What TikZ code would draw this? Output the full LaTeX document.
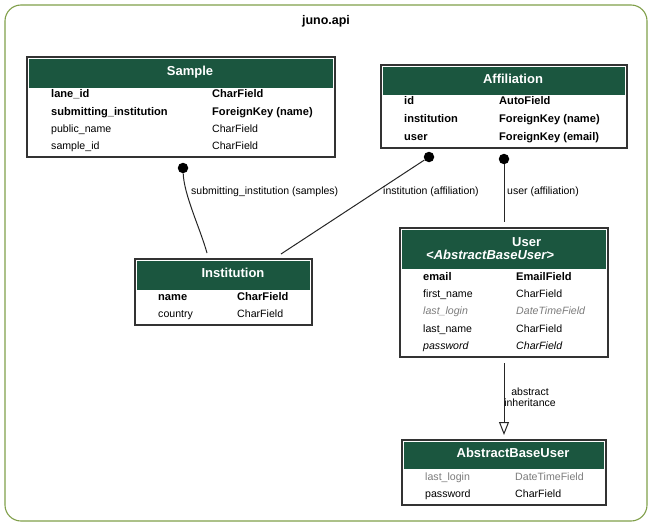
\documentclass[tikz,border=0pt]{standalone}
\usepackage{fontspec}
\setmainfont{Liberation Sans}
\usetikzlibrary{arrows.meta}
\definecolor{djgreen}{HTML}{1B563F}
\definecolor{clustergreen}{HTML}{809F4A}
\definecolor{inheritgray}{HTML}{7B7B7B}
\begin{document}
\begin{tikzpicture}
[x=1pt, y=-1pt,
  clusterdecorate/.style={draw=clustergreen, line width=1.1pt, rounded corners=16pt, inner sep=0pt},
  tabledecorate/.style={draw=black!80, line width=1.3pt, inner sep=0pt},
  headdecorate/.style={fill=djgreen, inner sep=0pt},
  titledecorate/.style={text=white, font=\fontsize{13}{15}\selectfont\bfseries, inner sep=0pt, anchor=base},
  fielddecorate/.style={inner sep=0pt, anchor=base west},
  keyfield/.style={font=\fontsize{11.1}{12}\selectfont\bfseries},
  plainfield/.style={font=\fontsize{10.6}{12}\selectfont},
  inheritfield/.style={font=\fontsize{10.6}{12}\selectfont\itshape, text=inheritgray},
  inheritplain/.style={font=\fontsize{10.6}{12}\selectfont, text=inheritgray},
  abstractfield/.style={font=\fontsize{10.6}{12}\selectfont\itshape},
  dotdecorate/.style={shape=circle, fill=black, inner sep=0pt, minimum size=10.5pt},
  linedecorate/.style={-, draw=black!85, line width=1pt},
  labeldecorate/.style={font=\fontsize{10.5}{12}\selectfont, inner sep=0pt, anchor=base west}]
\useasboundingbox (0,0) rectangle (653,527);
%% cluster
\node (cluster) at (326,263) [clusterdecorate, minimum width=642pt, minimum height=516pt] {};
\node (cluster-title) at (326,25) [anchor=base, inner sep=0pt, font=\fontsize{12.5}{14}\selectfont\bfseries] {juno.api};
%% tables and their headers
\foreach \nodename/\xa/\ya/\xb/\yb/\yh in {sample/27/57/335/157/88,
  affiliation/381/65/627/148/95, institution/135/259/312/325/290,
  user/400/228/608/357/269, abstractbaseuser/402/440/606/505/469}
{
  \node (\nodename) at ({(\xa+\xb)/2},{(\ya+\yb)/2}) [tabledecorate,
    minimum width={(\xb-\xa)*1pt}, minimum height={(\yb-\ya)*1pt}] {};
  \node (\nodename-head) at ({(\xa+\xb)/2},{(\ya+2+\yh)/2}) [headdecorate,
    minimum width={(\xb-\xa-4)*1pt}, minimum height={(\yh-\ya-2)*1pt}] {};
}
\foreach \nodename/\x/\y/\titletext in {sample/190/75/Sample,
  affiliation/513/83/Affiliation, institution/233/277/Institution,
  abstractbaseuser/513/457/AbstractBaseUser}
{
  \node (\nodename-title) at (\x,\y) [titledecorate] {\titletext};
}
\node (user-title) at (512,246) [titledecorate, anchor=base west] {User};
\node (user-parent) at (426,259) [titledecorate, anchor=base west,
  font=\fontsize{13}{15}\selectfont\bfseries\itshape] {<AbstractBaseUser>};
%% fields
\foreach \nodename/\x/\y/\fieldtext/\fieldstyle in {
  sample-n1/51/97/lane\_id/keyfield, sample-t1/212/97/CharField/keyfield,
  sample-n2/51/115/submitting\_institution/keyfield, sample-t2/212/115/ForeignKey (name)/keyfield,
  sample-n3/51/132/public\_name/plainfield, sample-t3/212/132/CharField/plainfield,
  sample-n4/51/149/sample\_id/plainfield, sample-t4/212/149/CharField/plainfield,
  affiliation-n1/404/104/id/keyfield, affiliation-t1/499/104/AutoField/keyfield,
  affiliation-n2/404/122/institution/keyfield, affiliation-t2/499/122/ForeignKey (name)/keyfield,
  affiliation-n3/404/140/user/keyfield, affiliation-t3/499/140/ForeignKey (email)/keyfield,
  institution-n1/158/300/name/keyfield, institution-t1/237/300/CharField/keyfield,
  institution-n2/158/317/country/plainfield, institution-t2/237/317/CharField/plainfield,
  user-n1/423/280/email/keyfield, user-t1/516/280/EmailField/keyfield,
  user-n2/423/297/first\_name/plainfield, user-t2/516/297/CharField/plainfield,
  user-n3/423/314/last\_login/inheritfield, user-t3/516/314/DateTimeField/inheritfield,
  user-n4/423/332/last\_name/plainfield, user-t4/516/332/CharField/plainfield,
  user-n5/423/349/password/abstractfield, user-t5/516/349/CharField/abstractfield,
  abstractbaseuser-n1/425/480/last\_login/inheritplain, abstractbaseuser-t1/515/480/DateTimeField/inheritplain,
  abstractbaseuser-n2/425/497/password/plainfield, abstractbaseuser-t2/515/497/CharField/plainfield}
{
  \node (\nodename) at (\x,\y) [fielddecorate, \fieldstyle] {\fieldtext};
}
%% dots and line ends
\foreach \nodename/\x/\y in {sample-dot/183/168, affiliation-dot1/429/157,
  affiliation-dot2/504/159}
{
  \node (\nodename) at (\x,\y) [dotdecorate] {};
}
\coordinate (institution-in1) at (207,253);
\coordinate (institution-in2) at (281,254);
\coordinate (user-in) at (504,222);
\coordinate (user-out) at (504,363);
\coordinate (abstractbaseuser-in) at (504,435);
%% edges or lines
\draw[linedecorate] (sample-dot) .. controls (184,195) and (200,228) .. (institution-in1);
\draw[linedecorate] (affiliation-dot1) -- (institution-in2);
\draw[linedecorate] (affiliation-dot2) -- (user-in);
\draw[linedecorate, -{Triangle[open, length=13pt, width=10pt]}] (user-out) -- (abstractbaseuser-in);
%% edge labels
\node (label-samples) at (191,194) [labeldecorate] {submitting\_institution (samples)};
\node (label-affiliation1) at (383,194) [labeldecorate] {institution (affiliation)};
\node (label-affiliation2) at (507,194) [labeldecorate] {user (affiliation)};
\node (label-inheritance) at (530,397) [labeldecorate, anchor=center, align=center,
  font=\fontsize{10.5}{11.5}\selectfont] {abstract\\inheritance};
\end{tikzpicture}
\end{document}
